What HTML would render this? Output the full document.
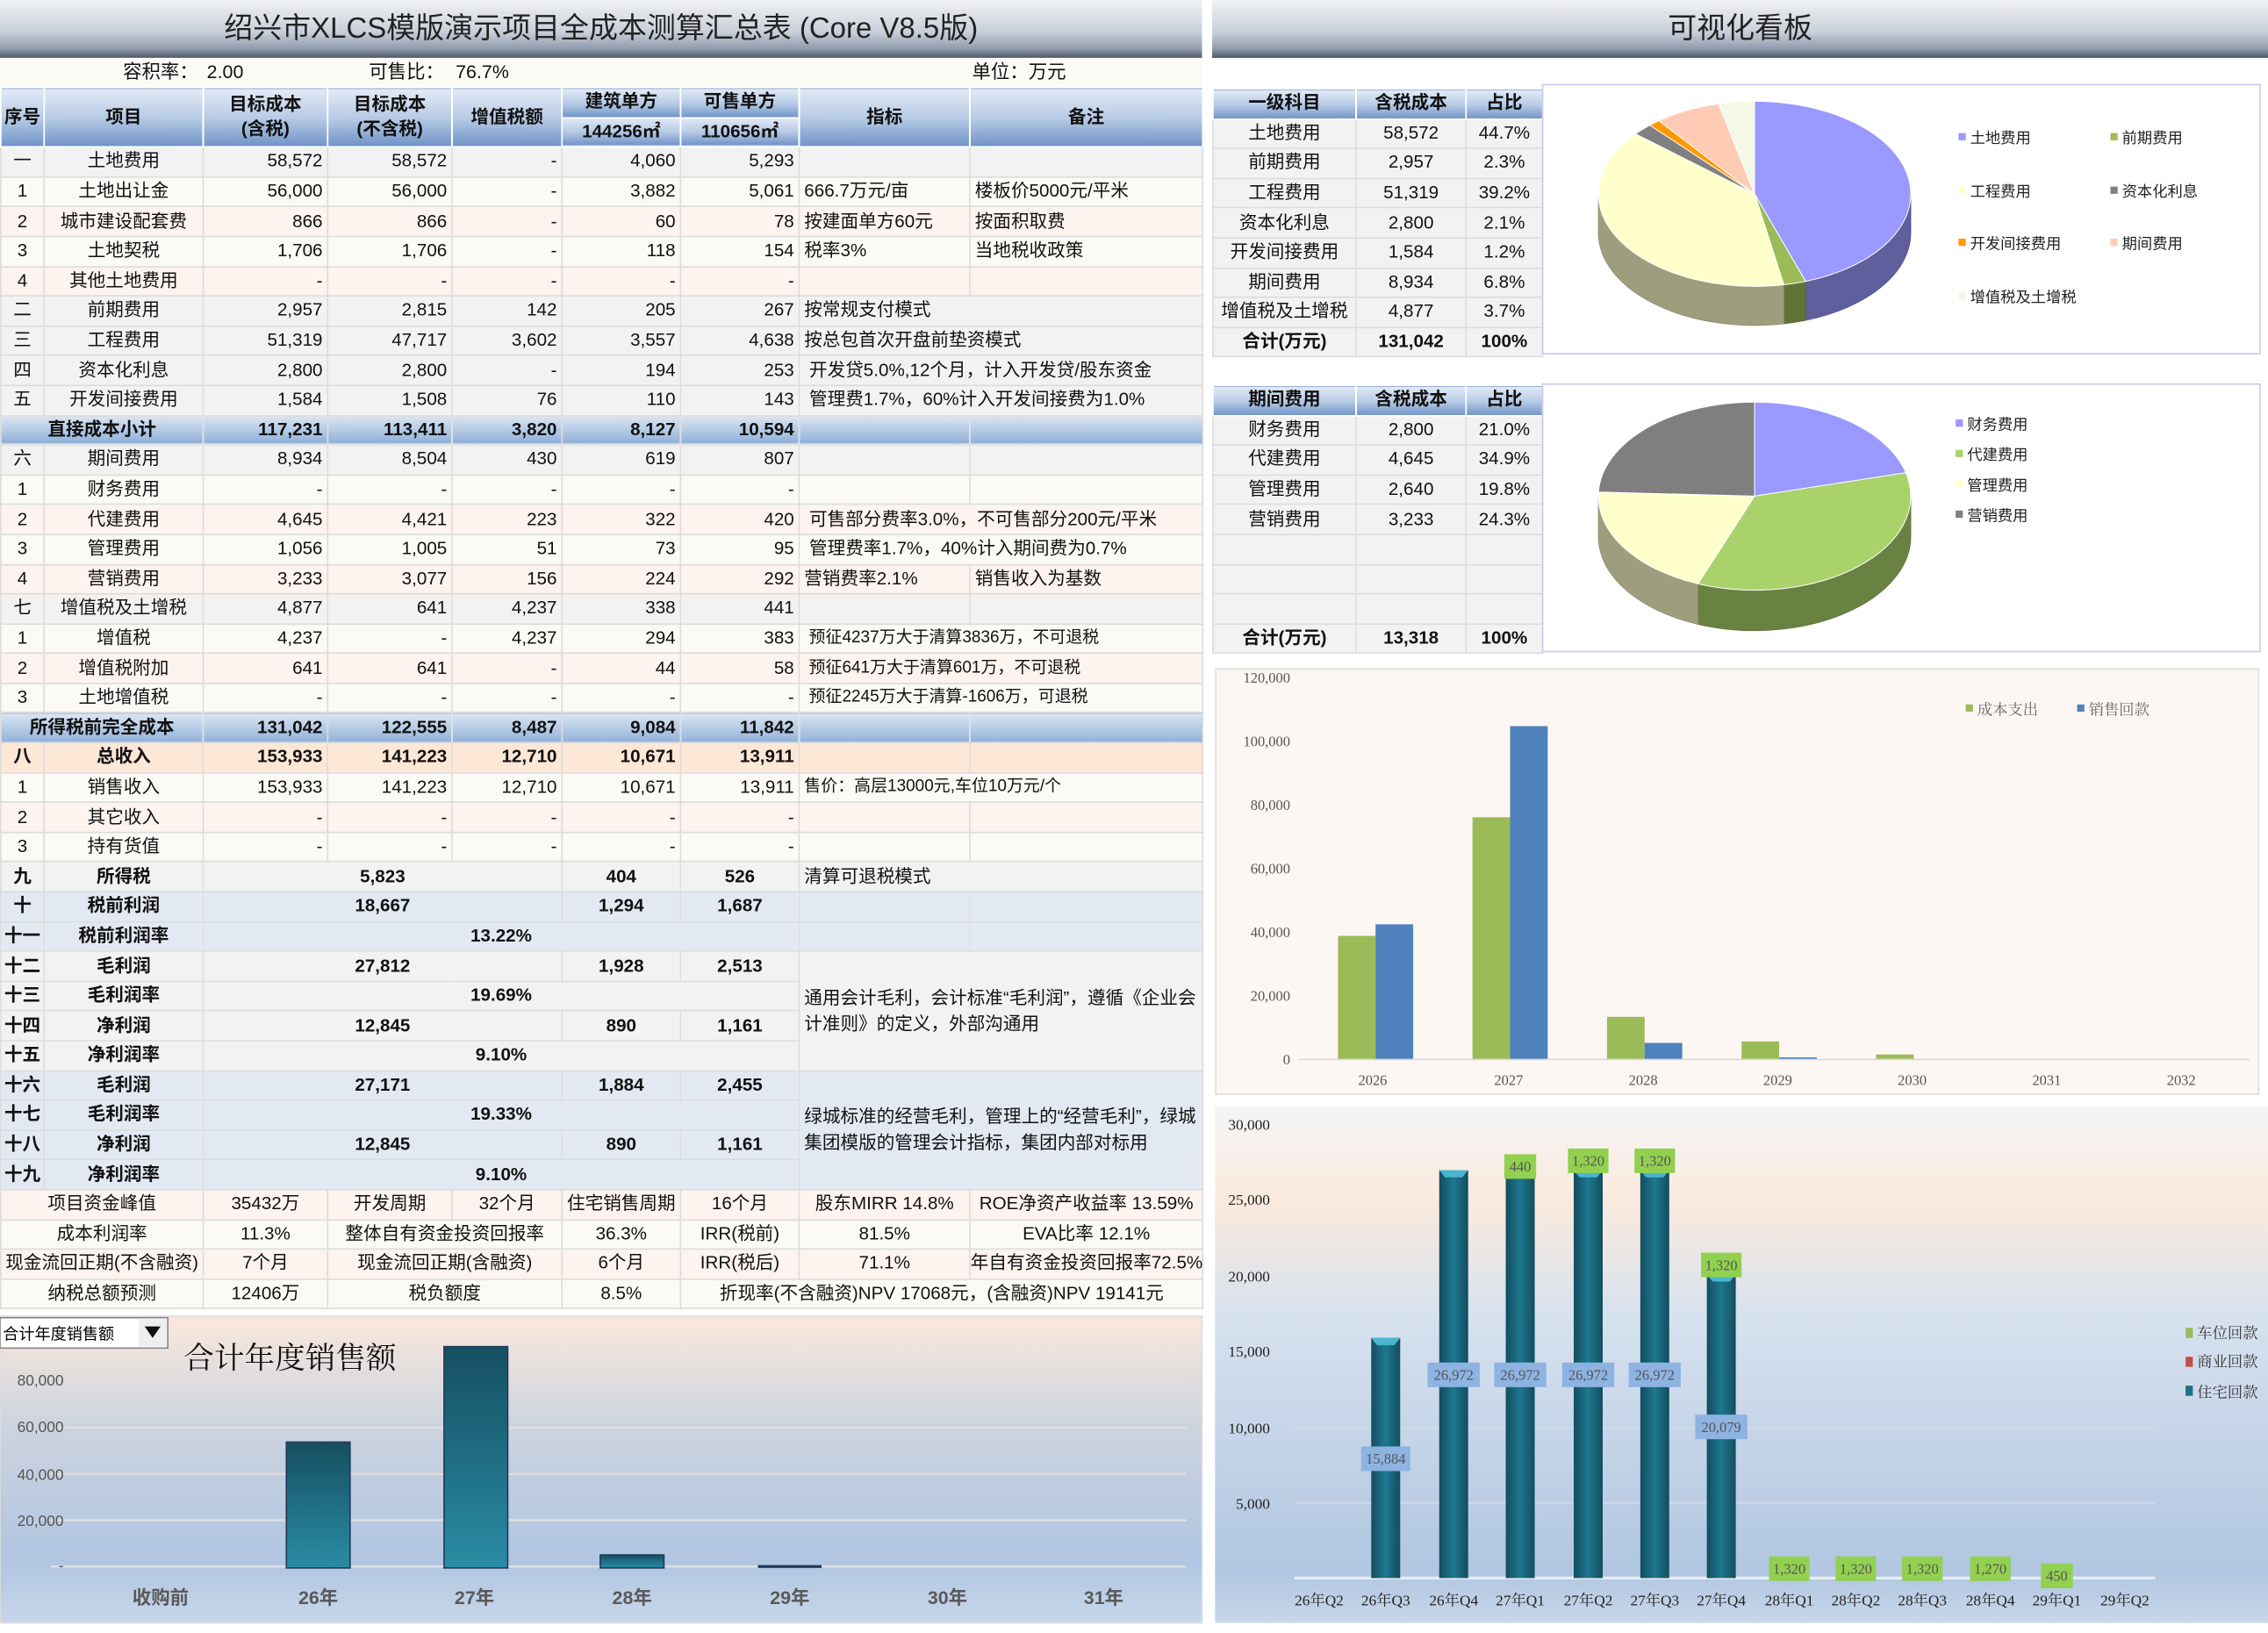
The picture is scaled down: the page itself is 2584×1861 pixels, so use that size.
<!DOCTYPE html>
<html><head><meta charset="utf-8">
<style>
html,body{margin:0;padding:0;width:2584px;height:1861px;overflow:hidden;background:#fff;}
#root{position:absolute;left:0;top:0;width:1568px;height:1129px;transform:scale(1.648,1.6484);transform-origin:0 0;font-family:"Liberation Sans","Noto Sans CJK SC",sans-serif;color:#111;}
.abs{position:absolute;}
.title{background:linear-gradient(#f0f2f5 0%,#c9d0da 55%,#8f9aab 85%,#4d596b 100%);font-size:20px;text-align:center;line-height:40px;color:#222;}
table{border-collapse:collapse;table-layout:fixed;font-size:12.5px;}
td{border:1px solid #dcdcdc;padding:0 3px;height:19.6px;white-space:nowrap;overflow:hidden;line-height:19px;}
.r{text-align:right}.c{text-align:center}
#lt tr td:first-child{text-align:center;padding:0}
tr.g td{background:#f2f2f2}
tr.w td{background:#fbfaf4}
tr.p td{background:#fdf3ef}
tr.o td{background:#fde7d6;font-weight:bold}
tr.l td{background:#e3e9f3}
tr.b td{font-weight:bold}
tr.s td{background:linear-gradient(#dce6f2,#8fb0d9);font-weight:bold}
.hd td{background:linear-gradient(#e2eaf5,#b7cbe6 50%,#6f93c7);font-weight:bold;text-align:center;border-color:#fff}
.wrap{white-space:normal;line-height:18px;vertical-align:middle}
</style></head><body><div id="root">

<div class="abs title" style="left:0;top:0;width:831px;height:40px;">绍兴市XLCS模版演示项目全成本测算汇总表 (Core V8.5版)</div>
<div class="abs title" style="left:838px;top:0;width:730px;height:40px;">可视化看板</div>

<div class="abs" style="left:0;top:40px;width:831px;height:20px;background:#fbfaf4;font-size:13px;line-height:20px;">
<span class="abs" style="left:85px">容积率：</span><span class="abs" style="left:143px">2.00</span>
<span class="abs" style="left:255px">可售比：</span><span class="abs" style="left:315px">76.7%</span>
<span class="abs" style="left:672px">单位：万元</span></div>

<table id="lt" class="abs" style="left:0;top:60px;width:831px;">
<colgroup><col style="width:30px"><col style="width:110px"><col style="width:86px"><col style="width:86px"><col style="width:76px"><col style="width:82px"><col style="width:82px"><col style="width:118px"><col style="width:161px"></colgroup>
<tr class="hd"><td rowspan="2" style="padding:0">序号</td><td rowspan="2">项目</td><td rowspan="2" style="line-height:17px">目标成本<br>(含税)</td><td rowspan="2" style="line-height:17px">目标成本<br>(不含税)</td><td rowspan="2">增值税额</td><td style="height:18px">建筑单方</td><td>可售单方</td><td rowspan="2">指标</td><td rowspan="2">备注</td></tr>
<tr class="hd"><td style="height:18px">144256㎡</td><td>110656㎡</td></tr>
<tr class="g"><td>一</td><td class="c">土地费用</td><td class="r">58,572</td><td class="r">58,572</td><td class="r">-</td><td class="r">4,060</td><td class="r">5,293</td><td></td><td></td></tr>
<tr class="w"><td>1</td><td class="c">土地出让金</td><td class="r">56,000</td><td class="r">56,000</td><td class="r">-</td><td class="r">3,882</td><td class="r">5,061</td><td>666.7万元/亩</td><td>楼板价5000元/平米</td></tr>
<tr class="p"><td>2</td><td class="c">城市建设配套费</td><td class="r">866</td><td class="r">866</td><td class="r">-</td><td class="r">60</td><td class="r">78</td><td>按建面单方60元</td><td>按面积取费</td></tr>
<tr class="w"><td>3</td><td class="c">土地契税</td><td class="r">1,706</td><td class="r">1,706</td><td class="r">-</td><td class="r">118</td><td class="r">154</td><td>税率3%</td><td>当地税收政策</td></tr>
<tr class="p"><td>4</td><td class="c">其他土地费用</td><td class="r">-</td><td class="r">-</td><td class="r">-</td><td class="r">-</td><td class="r">-</td><td></td><td></td></tr>
<tr class="g"><td>二</td><td class="c">前期费用</td><td class="r">2,957</td><td class="r">2,815</td><td class="r">142</td><td class="r">205</td><td class="r">267</td><td colspan="2">按常规支付模式</td></tr>
<tr class="g"><td>三</td><td class="c">工程费用</td><td class="r">51,319</td><td class="r">47,717</td><td class="r">3,602</td><td class="r">3,557</td><td class="r">4,638</td><td colspan="2">按总包首次开盘前垫资模式</td></tr>
<tr class="g"><td>四</td><td class="c">资本化利息</td><td class="r">2,800</td><td class="r">2,800</td><td class="r">-</td><td class="r">194</td><td class="r">253</td><td colspan="2">&nbsp;开发贷5.0%,12个月，计入开发贷/股东资金</td></tr>
<tr class="g"><td>五</td><td class="c">开发间接费用</td><td class="r">1,584</td><td class="r">1,508</td><td class="r">76</td><td class="r">110</td><td class="r">143</td><td colspan="2">&nbsp;管理费1.7%，60%计入开发间接费为1.0%</td></tr>
<tr class="s"><td colspan="2" class="c">直接成本小计</td><td class="r">117,231</td><td class="r">113,411</td><td class="r">3,820</td><td class="r">8,127</td><td class="r">10,594</td><td></td><td></td></tr>
<tr class="g"><td>六</td><td class="c">期间费用</td><td class="r">8,934</td><td class="r">8,504</td><td class="r">430</td><td class="r">619</td><td class="r">807</td><td></td><td></td></tr>
<tr class="w"><td>1</td><td class="c">财务费用</td><td class="r">-</td><td class="r">-</td><td class="r">-</td><td class="r">-</td><td class="r">-</td><td></td><td></td></tr>
<tr class="p"><td>2</td><td class="c">代建费用</td><td class="r">4,645</td><td class="r">4,421</td><td class="r">223</td><td class="r">322</td><td class="r">420</td><td colspan="2">&nbsp;可售部分费率3.0%，不可售部分200元/平米</td></tr>
<tr class="w"><td>3</td><td class="c">管理费用</td><td class="r">1,056</td><td class="r">1,005</td><td class="r">51</td><td class="r">73</td><td class="r">95</td><td colspan="2">&nbsp;管理费率1.7%，40%计入期间费为0.7%</td></tr>
<tr class="p"><td>4</td><td class="c">营销费用</td><td class="r">3,233</td><td class="r">3,077</td><td class="r">156</td><td class="r">224</td><td class="r">292</td><td>营销费率2.1%</td><td>销售收入为基数</td></tr>
<tr class="g"><td>七</td><td class="c">增值税及土增税</td><td class="r">4,877</td><td class="r">641</td><td class="r">4,237</td><td class="r">338</td><td class="r">441</td><td></td><td></td></tr>
<tr class="w"><td>1</td><td class="c">增值税</td><td class="r">4,237</td><td class="r">-</td><td class="r">4,237</td><td class="r">294</td><td class="r">383</td><td colspan="2" style="font-size:11.5px">&nbsp;预征4237万大于清算3836万，不可退税</td></tr>
<tr class="p"><td>2</td><td class="c">增值税附加</td><td class="r">641</td><td class="r">641</td><td class="r">-</td><td class="r">44</td><td class="r">58</td><td colspan="2" style="font-size:11.5px">&nbsp;预征641万大于清算601万，不可退税</td></tr>
<tr class="w"><td>3</td><td class="c">土地增值税</td><td class="r">-</td><td class="r">-</td><td class="r">-</td><td class="r">-</td><td class="r">-</td><td colspan="2" style="font-size:11.5px">&nbsp;预征2245万大于清算-1606万，可退税</td></tr>
<tr class="s"><td colspan="2" class="c">所得税前完全成本</td><td class="r">131,042</td><td class="r">122,555</td><td class="r">8,487</td><td class="r">9,084</td><td class="r">11,842</td><td></td><td></td></tr>
<tr class="o"><td>八</td><td class="c">总收入</td><td class="r">153,933</td><td class="r">141,223</td><td class="r">12,710</td><td class="r">10,671</td><td class="r">13,911</td><td></td><td></td></tr>
<tr class="w"><td>1</td><td class="c">销售收入</td><td class="r">153,933</td><td class="r">141,223</td><td class="r">12,710</td><td class="r">10,671</td><td class="r">13,911</td><td colspan="2" style="font-size:11.5px">售价：高层13000元,车位10万元/个</td></tr>
<tr class="p"><td>2</td><td class="c">其它收入</td><td class="r">-</td><td class="r">-</td><td class="r">-</td><td class="r">-</td><td class="r">-</td><td></td><td></td></tr>
<tr class="w"><td>3</td><td class="c">持有货值</td><td class="r">-</td><td class="r">-</td><td class="r">-</td><td class="r">-</td><td class="r">-</td><td></td><td></td></tr>
<tr class="g b"><td>九</td><td class="c">所得税</td><td colspan="3" class="c">5,823</td><td class="c">404</td><td class="c">526</td><td colspan="2" style="font-weight:normal">清算可退税模式</td></tr>
<tr class="l b"><td>十</td><td class="c">税前利润</td><td colspan="3" class="c">18,667</td><td class="c">1,294</td><td class="c">1,687</td><td></td><td></td></tr>
<tr class="l b"><td>十一</td><td class="c">税前利润率</td><td colspan="5" class="c">13.22%</td><td></td><td></td></tr>
<tr class="g b"><td>十二</td><td class="c">毛利润</td><td colspan="3" class="c">27,812</td><td class="c">1,928</td><td class="c">2,513</td><td colspan="2" rowspan="4" class="wrap" style="font-weight:normal">通用会计毛利，会计标准“毛利润”，遵循《企业会计准则》的定义，外部沟通用</td></tr>
<tr class="g b"><td>十三</td><td class="c">毛利润率</td><td colspan="5" class="c">19.69%</td></tr>
<tr class="g b"><td>十四</td><td class="c">净利润</td><td colspan="3" class="c">12,845</td><td class="c">890</td><td class="c">1,161</td></tr>
<tr class="g b"><td>十五</td><td class="c">净利润率</td><td colspan="5" class="c">9.10%</td></tr>
<tr class="l b"><td>十六</td><td class="c">毛利润</td><td colspan="3" class="c">27,171</td><td class="c">1,884</td><td class="c">2,455</td><td colspan="2" rowspan="4" class="wrap" style="font-weight:normal">绿城标准的经营毛利，管理上的“经营毛利”，绿城集团模版的管理会计指标，集团内部对标用</td></tr>
<tr class="l b"><td>十七</td><td class="c">毛利润率</td><td colspan="5" class="c">19.33%</td></tr>
<tr class="l b"><td>十八</td><td class="c">净利润</td><td colspan="3" class="c">12,845</td><td class="c">890</td><td class="c">1,161</td></tr>
<tr class="l b"><td>十九</td><td class="c">净利润率</td><td colspan="5" class="c">9.10%</td></tr>
<tr class="p"><td colspan="2" class="c">项目资金峰值</td><td class="c">35432万</td><td class="c">开发周期</td><td class="c">32个月</td><td class="c" style="padding:0">住宅销售周期</td><td class="c">16个月</td><td class="c">股东MIRR 14.8%</td><td class="c">ROE净资产收益率 13.59%</td></tr>
<tr class="w"><td colspan="2" class="c">成本利润率</td><td class="c">11.3%</td><td colspan="2" class="c">整体自有资金投资回报率</td><td class="c">36.3%</td><td class="c">IRR(税前)</td><td class="c">81.5%</td><td class="c">EVA比率 12.1%</td></tr>
<tr class="p"><td colspan="2" class="c" style="padding:0">现金流回正期(不含融资)</td><td class="c">7个月</td><td colspan="2" class="c">现金流回正期(含融资)</td><td class="c">6个月</td><td class="c">IRR(税后)</td><td class="c">71.1%</td><td class="c" style="padding:0">年自有资金投资回报率72.5%</td></tr>
<tr class="w"><td colspan="2" class="c">纳税总额预测</td><td class="c">12406万</td><td colspan="2" class="c">税负额度</td><td class="c">8.5%</td><td colspan="3" class="c">折现率(不含融资)NPV 17068元，(含融资)NPV 19141元</td></tr>
</table>

<!-- right tables -->
<table class="abs" style="left:838px;top:61px;width:228px;font-size:12.5px;">
<colgroup><col style="width:99px"><col style="width:76px"><col style="width:53px"></colgroup>
<tr class="hd"><td>一级科目</td><td>含税成本</td><td>占比</td></tr>
<tr class="g"><td class="c">土地费用</td><td class="c">58,572</td><td class="c">44.7%</td></tr>
<tr class="g"><td class="c">前期费用</td><td class="c">2,957</td><td class="c">2.3%</td></tr>
<tr class="g"><td class="c">工程费用</td><td class="c">51,319</td><td class="c">39.2%</td></tr>
<tr class="g"><td class="c">资本化利息</td><td class="c">2,800</td><td class="c">2.1%</td></tr>
<tr class="g"><td class="c">开发间接费用</td><td class="c">1,584</td><td class="c">1.2%</td></tr>
<tr class="g"><td class="c">期间费用</td><td class="c">8,934</td><td class="c">6.8%</td></tr>
<tr class="g"><td class="c" style="padding:0">增值税及土增税</td><td class="c">4,877</td><td class="c">3.7%</td></tr>
<tr class="g b"><td class="c">合计(万元)</td><td class="c">131,042</td><td class="c">100%</td></tr>
</table>
<table class="abs" style="left:838px;top:266px;width:228px;font-size:12.5px;">
<colgroup><col style="width:99px"><col style="width:76px"><col style="width:53px"></colgroup>
<tr class="hd"><td>期间费用</td><td>含税成本</td><td>占比</td></tr>
<tr class="g"><td class="c">财务费用</td><td class="c">2,800</td><td class="c">21.0%</td></tr>
<tr class="g"><td class="c">代建费用</td><td class="c">4,645</td><td class="c">34.9%</td></tr>
<tr class="g"><td class="c">管理费用</td><td class="c">2,640</td><td class="c">19.8%</td></tr>
<tr class="g"><td class="c">营销费用</td><td class="c">3,233</td><td class="c">24.3%</td></tr>
<tr class="g"><td></td><td></td><td></td></tr>
<tr class="g"><td></td><td></td><td></td></tr>
<tr class="g"><td></td><td></td><td></td></tr>
<tr class="g b"><td class="c">合计(万元)</td><td class="c">13,318</td><td class="c">100%</td></tr>
</table>

<svg class="abs" style="left:0;top:0" width="1568" height="1129" viewBox="0 0 1568 1129" font-family="Liberation Serif, Noto Serif CJK SC, serif">
<defs>
<linearGradient id="bgL" x1="0" y1="0" x2="0" y2="1"><stop offset="0" stop-color="#fbe8db"/><stop offset="0.35" stop-color="#cdd4df"/><stop offset="0.8" stop-color="#b0c5e1"/><stop offset="1" stop-color="#c8d7ea"/></linearGradient>
<linearGradient id="bg2" x1="0" y1="0" x2="0" y2="1"><stop offset="0" stop-color="#f4f5f8"/><stop offset="0.18" stop-color="#fbeadd"/><stop offset="0.4" stop-color="#d8e2ef"/><stop offset="0.9" stop-color="#b1c6e1"/><stop offset="1" stop-color="#c8d7ea"/></linearGradient>
<linearGradient id="barL" x1="0" y1="0" x2="0" y2="1"><stop offset="0" stop-color="#154f60"/><stop offset="1" stop-color="#2a8ca5"/></linearGradient>
<linearGradient id="bar2" x1="0" y1="0" x2="1" y2="0"><stop offset="0" stop-color="#134d5e"/><stop offset="0.5" stop-color="#1f7890"/><stop offset="1" stop-color="#134d5e"/></linearGradient>
</defs>

<rect x="0" y="910" width="831" height="212" fill="url(#bgL)" stroke="#ddd"/>
<g stroke="#dedede" stroke-width="1.5">
<line x1="35" y1="955" x2="820" y2="955"/><line x1="35" y1="987" x2="820" y2="987"/><line x1="35" y1="1019" x2="820" y2="1019"/><line x1="35" y1="1051" x2="820" y2="1051"/><line x1="35" y1="1083" x2="820" y2="1083"/>
</g>
<g font-size="10.5" fill="#555" text-anchor="end" font-family="Liberation Sans, sans-serif">
<text x="44" y="958">80,000</text><text x="44" y="990">60,000</text><text x="44" y="1023">40,000</text><text x="44" y="1055">20,000</text><text x="44" y="1086">-</text>
</g>
<rect x="198" y="997" width="44" height="87" fill="url(#barL)" stroke="#1f3b5a"/>
<rect x="307" y="931" width="44" height="153" fill="url(#barL)" stroke="#1f3b5a"/>
<rect x="415" y="1075" width="44" height="9" fill="url(#barL)" stroke="#1f3b5a"/>
<rect x="524" y="1082" width="44" height="2" fill="#1f3b5a"/>
<g font-size="13" font-weight="bold" fill="#595959" text-anchor="middle" font-family="Liberation Sans, Noto Sans CJK SC, sans-serif">
<text x="111" y="1109">收购前</text><text x="220" y="1109">26年</text><text x="328" y="1109">27年</text><text x="437" y="1109">28年</text><text x="546" y="1109">29年</text><text x="655" y="1109">30年</text><text x="763" y="1109">31年</text>
</g>
<rect x="0" y="911" width="116" height="21" fill="#fff" stroke="#888"/>
<rect x="96" y="912" width="19" height="19" fill="#eee"/>
<text x="2" y="926" font-size="11" font-family="Liberation Sans, Noto Sans CJK SC, sans-serif">合计年度销售额</text>
<path d="M100 917 L111 917 L105.5 925 Z" fill="#111"/>
<text x="127" y="946" font-size="21" font-family="Liberation Serif, Noto Serif CJK SC, serif" fill="#111">合计年度销售额</text>

<rect x="1066.5" y="58.5" width="496" height="186" fill="#fff" stroke="#c9c9ef"/>
<rect x="1066.5" y="265.5" width="496" height="185" fill="#fff" stroke="#c9c9ef"/>
<g id="pie1"></g><g id="pie2"></g>
<rect x="1346" y="76" width="209" height="144" fill="#fff"/>
<g font-size="10.5" font-family="Liberation Sans, Noto Sans CJK SC, sans-serif" fill="#222">
<rect x="1354" y="92" width="5" height="5" fill="#9999ff"/><text x="1362" y="99">土地费用</text>
<rect x="1459" y="92" width="5" height="5" fill="#9bbb59"/><text x="1467" y="99">前期费用</text>
<rect x="1354" y="129" width="5" height="5" fill="#ffffcc"/><text x="1362" y="136">工程费用</text>
<rect x="1459" y="129" width="5" height="5" fill="#808080"/><text x="1467" y="136">资本化利息</text>
<rect x="1354" y="165" width="5" height="5" fill="#ff9900"/><text x="1362" y="172">开发间接费用</text>
<rect x="1459" y="165" width="5" height="5" fill="#ffcbb5"/><text x="1467" y="172">期间费用</text>
<rect x="1354" y="202" width="5" height="5" fill="#f3f9e6"/><text x="1362" y="209">增值税及土增税</text>
<rect x="1346" y="283" width="64" height="83" fill="#fff"/>
<rect x="1352" y="290" width="5" height="5" fill="#9999ff"/><text x="1360" y="297">财务费用</text>
<rect x="1352" y="311" width="5" height="5" fill="#a9d26b"/><text x="1360" y="318">代建费用</text>
<rect x="1352" y="332" width="5" height="5" fill="#ffffcc"/><text x="1360" y="339">管理费用</text>
<rect x="1352" y="353" width="5" height="5" fill="#7f7f7f"/><text x="1360" y="360">营销费用</text>
</g>

<rect x="840.5" y="462.5" width="721" height="294" fill="#fdf7f3" stroke="#ddd"/>
<line x1="898" y1="732.5" x2="1555" y2="732.5" stroke="#d9d9d9"/>
<g font-size="10" fill="#555" text-anchor="end">
<text x="892" y="472">120,000</text><text x="892" y="516">100,000</text><text x="892" y="560">80,000</text><text x="892" y="604">60,000</text><text x="892" y="648">40,000</text><text x="892" y="692">20,000</text><text x="892" y="736">0</text>
</g>
<g fill="#9bbb59">
<rect x="925" y="647" width="26" height="85"/><rect x="1018" y="565" width="26" height="167"/><rect x="1111" y="703" width="26" height="29"/><rect x="1204" y="720" width="26" height="12"/><rect x="1297" y="729" width="26" height="3"/>
</g>
<g fill="#4f81bd">
<rect x="951" y="639" width="26" height="93"/><rect x="1044" y="502" width="26" height="230"/><rect x="1137" y="721" width="26" height="11"/><rect x="1230" y="731" width="26" height="1"/>
</g>
<g font-size="10" fill="#555" text-anchor="middle">
<text x="949" y="750">2026</text><text x="1043" y="750">2027</text><text x="1136" y="750">2028</text><text x="1229" y="750">2029</text><text x="1322" y="750">2030</text><text x="1415" y="750">2031</text><text x="1508" y="750">2032</text>
</g>
<g font-size="10.5" fill="#666" font-family="Liberation Serif, Noto Serif CJK SC, serif">
<rect x="1359" y="487" width="5" height="5" fill="#9bbb59"/><text x="1367" y="494">成本支出</text>
<rect x="1436" y="487" width="5" height="5" fill="#4f81bd"/><text x="1444" y="494">销售回款</text>
</g>

<rect x="840" y="765" width="728" height="357" fill="url(#bg2)"/>
<g stroke="#d3dceb" stroke-width="1"><line x1="895" y1="934" x2="1490" y2="934"/><line x1="895" y1="987" x2="1490" y2="987"/><line x1="895" y1="1039" x2="1490" y2="1039"/></g>
<line x1="895" y1="1091" x2="1490" y2="1091" stroke="#e8edf5" stroke-width="2"/>
<g font-size="10.5" fill="#222" text-anchor="end">
<text x="878" y="781">30,000</text><text x="878" y="833">25,000</text><text x="878" y="886">20,000</text><text x="878" y="938">15,000</text><text x="878" y="991">10,000</text><text x="878" y="1043">5,000</text>
</g>
<g fill="url(#bar2)">
<rect x="948" y="925" width="20" height="166"/><rect x="995" y="809" width="20" height="282"/><rect x="1041" y="809" width="20" height="282"/><rect x="1088" y="809" width="20" height="282"/><rect x="1134" y="809" width="20" height="282"/><rect x="1180" y="881" width="20" height="210"/>
</g>
<g fill="#4ab5d0"><path d="M948 925h20l-4 5h-12z"/><path d="M995 809h20l-4 5h-12z"/><path d="M1088 809h20l-4 5h-12z"/><path d="M1134 809h20l-4 5h-12z"/><path d="M1180 881h20l-4 5h-12z"/></g>
<g fill="#8db3e2"><rect x="941" y="1000" width="34" height="17"/><rect x="987" y="942" width="36" height="17"/><rect x="1033" y="942" width="36" height="17"/><rect x="1080" y="942" width="36" height="17"/><rect x="1126" y="942" width="36" height="17"/><rect x="1172" y="978" width="36" height="17"/></g>
<g fill="#92d050"><rect x="1040" y="798" width="22" height="17"/><rect x="1084" y="794" width="28" height="17"/><rect x="1130" y="794" width="28" height="17"/><rect x="1176" y="866" width="28" height="17"/><rect x="1223" y="1076" width="28" height="17"/><rect x="1269" y="1076" width="28" height="17"/><rect x="1315" y="1076" width="28" height="17"/><rect x="1362" y="1076" width="28" height="17"/><rect x="1411" y="1081" width="22" height="17"/></g>
<g font-size="10" fill="#555" text-anchor="middle">
<text x="958" y="1012">15,884</text><text x="1005" y="954">26,972</text><text x="1051" y="954">26,972</text><text x="1098" y="954">26,972</text><text x="1144" y="954">26,972</text><text x="1190" y="990">20,079</text>
<text x="1051" y="810">440</text><text x="1098" y="806">1,320</text><text x="1144" y="806">1,320</text><text x="1190" y="878">1,320</text><text x="1237" y="1088">1,320</text><text x="1283" y="1088">1,320</text><text x="1329" y="1088">1,320</text><text x="1376" y="1088">1,270</text><text x="1422" y="1093">450</text>
</g>
<g font-size="10.5" fill="#222" text-anchor="middle">
<text x="912" y="1110">26年Q2</text><text x="958" y="1110">26年Q3</text><text x="1005" y="1110">26年Q4</text><text x="1051" y="1110">27年Q1</text><text x="1098" y="1110">27年Q2</text><text x="1144" y="1110">27年Q3</text><text x="1190" y="1110">27年Q4</text><text x="1237" y="1110">28年Q1</text><text x="1283" y="1110">28年Q2</text><text x="1329" y="1110">28年Q3</text><text x="1376" y="1110">28年Q4</text><text x="1422" y="1110">29年Q1</text><text x="1469" y="1110">29年Q2</text>
</g>
<g font-size="10.5" fill="#333">
<rect x="1511" y="918" width="5" height="7" fill="#9bbb59"/><text x="1519" y="925">车位回款</text>
<rect x="1511" y="938" width="5" height="7" fill="#c0504d"/><text x="1519" y="945">商业回款</text>
<rect x="1511" y="958" width="5" height="7" fill="#1f6f85"/><text x="1519" y="966">住宅回款</text>
</g>
</svg>
</div>
<script>
function shade(h,f){var n=parseInt(h.slice(1),16);var r=(n>>16)&255,g=(n>>8)&255,b=n&255;return 'rgb('+Math.round(r*f)+','+Math.round(g*f)+','+Math.round(b*f)+')';}
function pie(id,cx,cy,rx,ry,d,fr,cols){
 var g=document.getElementById(id),s='',a=0,ang=[];
 fr.forEach(function(f){ang.push([a,a+f*360]);a+=f*360;});
 function pt(t,dy){var r=t*Math.PI/180;return [cx+rx*Math.sin(r),cy-ry*Math.cos(r)+dy];}
 ang.forEach(function(p,i){
  var a1=Math.max(p[0],90),a2=Math.min(p[1],270);
  if(a2>a1){var A=pt(a1,0),B=pt(a2,0),C=pt(a2,d),D=pt(a1,d);
   s+='<path d="M'+A+' A'+rx+' '+ry+' 0 0 1 '+B+' L'+C+' A'+rx+' '+ry+' 0 0 0 '+D+' Z" fill="'+shade(cols[i],0.62)+'" stroke="'+shade(cols[i],0.55)+'" stroke-width="0.5"/>';}
 });
 ang.forEach(function(p,i){var A=pt(p[0],0),B=pt(p[1],0),L=(p[1]-p[0])>180?1:0;
  s+='<path d="M'+cx+','+cy+' L'+A+' A'+rx+' '+ry+' 0 '+L+' 1 '+B+' Z" fill="'+cols[i]+'" stroke="#fff" stroke-width="0.6"/>';});
 g.innerHTML=s;
}
pie('pie1',1213,134,108,64,27,[.447,.023,.392,.021,.012,.068,.037],['#9999ff','#9bbb59','#ffffcc','#808080','#ff9900','#ffcbb5','#f3f9e6']);
pie('pie2',1213,343,108,65,28,[.21,.349,.198,.243],['#9999ff','#a9d26b','#ffffcc','#7f7f7f']);
</script>
</body></html>
